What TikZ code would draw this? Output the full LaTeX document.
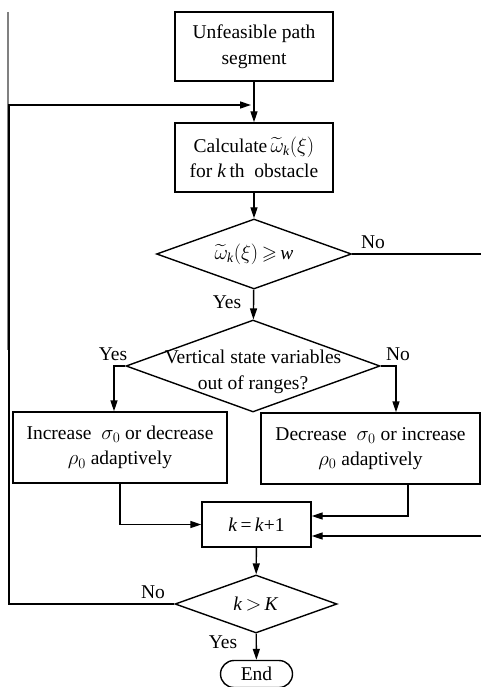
\documentclass[tikz,border=0pt]{standalone}
\usepackage{amsmath,amssymb}
\usepackage{fontspec}
\setmainfont{Liberation Serif}
\usetikzlibrary{arrows.meta,shapes.geometric,shapes.misc}
\newcommand{\vk}{\textit{k}}
\tikzset{
  every picture/.style={line width=1.4pt},
  box/.style={draw, rectangle, inner sep=0pt, align=center, font=\fontsize{19.5}{25.5}\selectfont},
  dia/.style={draw, diamond, inner sep=0pt, font=\fontsize{19.5}{25.5}\selectfont},
  term/.style={draw, rounded rectangle, inner sep=0pt, font=\fontsize{19.5}{25.5}\selectfont},
  lbl/.style={font=\fontsize{19.5}{25.5}\selectfont, inner sep=0pt},
  arr/.style={-{Triangle[length=11pt,width=7pt]}},
}
\begin{document}
\begin{tikzpicture}[x=1pt,y=-1pt]
\useasboundingbox (0,0) rectangle (481,687);
\draw[gray, line width=1.6pt] (8,12) -- (8,350);
\node[box, minimum width=158pt, minimum height=69pt] (top) at (254,46.5) {Unfeasible path\\segment};
\node[box, minimum width=158pt, minimum height=69pt] (calc) at (254,157.5) {Calculate\,$\widetilde{\omega}_{\vk}(\xi)$\\for \vk\,th\ \ obstacle};
\node[dia, minimum width=195pt, minimum height=70pt, label={[lbl]center:$\widetilde{\omega}_{\vk}(\xi)\,{\geqslant}\,\text{\textit{w}}$}] (d1) at (254,254) {};
\node[dia, minimum width=254pt, minimum height=92pt, label={[lbl,align=center,yshift=-6pt]center:Vertical state variables\\out of ranges?}] (d2) at (253,366) {};
\node[box, minimum width=214pt, minimum height=71pt] (lb) at (120,447.5) {Increase\ \ $\sigma_0$ or decrease\\$\rho_0$ adaptively};
\node[box, minimum width=219pt, minimum height=71pt] (rb) at (370.5,448.5) {Decrease\ \ $\sigma_0$ or increase\\$\rho_0$ adaptively};
\node[box, minimum width=109pt, minimum height=45pt] (kb) at (256.5,524.5) {\vk\,=\,\vk+1};
\node[dia, minimum width=162pt, minimum height=58pt, label={[lbl]center:\vk\,$>$\,\textit{K}}] (d3) at (256,604) {};
\node[term, minimum width=72pt, minimum height=27pt] (end) at (256.5,674) {End};
\coordinate (join) at (251,105);
\coordinate (lt) at (9,604);
\coordinate (lu) at (9,105);
\coordinate (ra) at (483,254);
\coordinate (rc) at (483,536);
\draw[arr] (top) -- (calc);
\draw[arr] (d3.west) -- (lt) -- (lu) -- (join);
\draw[arr] (calc) -- (d1);
\draw[arr] (d1) -- (d2);
\draw[arr] (d2.west) -- (114,366) -- (lb.north -| 114,0);
\draw[arr] (d2.east) -- (396,366) -- (rb.north -| 396,0);
\draw[arr] (lb.south) |- (kb.west);
\draw[arr] (rb.south -| 408,0) |- (kb.east |- 0,516);
\draw (d1.east) -- (ra) -- (rc);
\draw[arr] (rc) -- (kb.east |- 0,536);
\draw[arr] (kb) -- (d3);
\draw[arr] (d3) -- (end);
\node[lbl] (no1) at (373,242) {No};
\node[lbl] (yes1) at (227,302) {Yes};
\node[lbl] (yes2) at (113,354) {Yes};
\node[lbl] (no2) at (398,354) {No};
\node[lbl] (no3) at (153,592) {No};
\node[lbl] (yes3) at (223,642) {Yes};
\end{tikzpicture}
\end{document}
